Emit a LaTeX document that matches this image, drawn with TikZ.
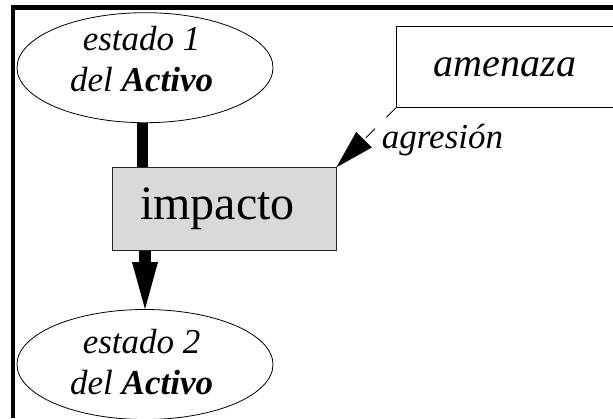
\documentclass[tikz,border=0pt]{standalone}
\usepackage{fontspec}
\setmainfont{Liberation Serif}
\usetikzlibrary{arrows.meta,shapes.geometric}
\tikzset{
  statebox/.style={draw, ellipse, line width=0.8pt, minimum width=256pt, minimum height=110pt, inner sep=0pt},
  statetxt/.style={font=\fontsize{35}{41.7}\selectfont\itshape, align=center, inner sep=0pt},
  procbox/.style={draw=black!85, fill=black!15, line width=0.8pt, font=\fontsize{48}{58}\selectfont,
    minimum height=83pt, text width=168.7pt, inner xsep=27.3pt, inner ysep=0pt, align=left},
  threatbox/.style={draw, line width=0.8pt, minimum width=218pt, minimum height=81pt, inner sep=0pt,
    font=\fontsize{40}{48}\selectfont\itshape},
  flowline/.style={line width=11pt},
  flowarrow/.style={line width=12pt, -{Triangle[length=47pt,width=26pt,line width=0pt]}},
  attackarrow/.style={line width=0.8pt, dash pattern=on 13pt off 16pt, -{Triangle[length=39pt,width=22pt,line width=0pt]}},
  lbltxt/.style={font=\fontsize{35}{42}\selectfont\itshape, inner sep=0pt}
}
\begin{document}
\begin{tikzpicture}[x=1pt,y=-1pt]
\useasboundingbox (0,0) rectangle (613,418);
% frame
\draw[line width=4.5pt] (13,418) -- (13,7.3) -- (613,7.3);
% nodes
\node[statebox] (e1) at (145,67.7) {};
\node[statetxt] (t1) at (141.6,58.9) {estado 1\\del \textbf{Activo}};
\node[statebox] (e2) at (145,364.5) {};
\node[statetxt] (t2) at (141.6,361.9) {estado 2\\del \textbf{Activo}};
\node[procbox] (imp) at (224.35,209.2) {impacto};
\node[threatbox] (am) at (505,67.2) {amenaza};
% connectors
\draw[flowline] ([xshift=-3pt]e1.south) -- ([xshift=-3pt]e1.south |- imp.north);
\draw[flowarrow] (e2.north |- imp.south) -- (e2.north);
\draw[attackarrow] (am.south west) -- (imp.north east);
\node[lbltxt, anchor=base west] (lbl) at (381.7,148) {agresión};
\end{tikzpicture}
\end{document}
